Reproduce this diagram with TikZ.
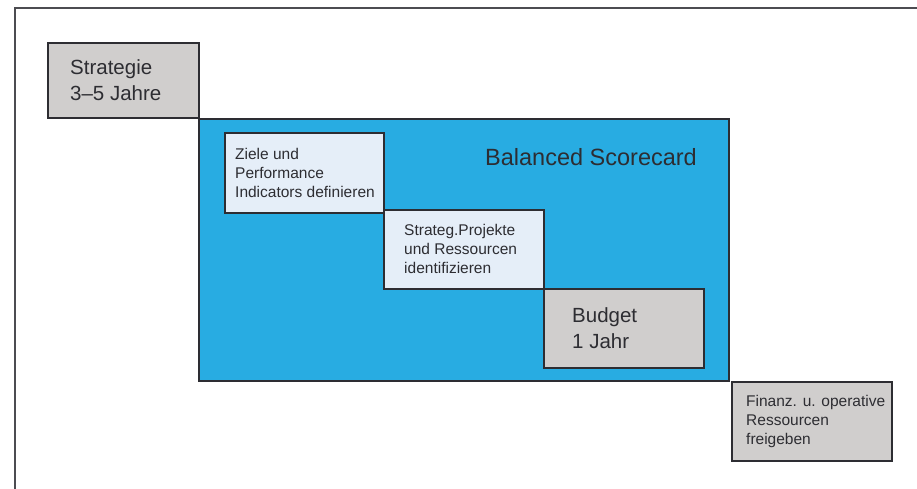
\documentclass[tikz,border=0pt]{standalone}
\usepackage{fontspec}
\setmainfont{Liberation Sans}
\usetikzlibrary{positioning}

\definecolor{bscblue}{RGB}{40,172,226}
\definecolor{boxgray}{RGB}{208,206,205}
\definecolor{boxlight}{RGB}{229,238,248}
\definecolor{edge}{RGB}{45,45,50}

\tikzset{
  box/.style={draw=edge, line width=1.6pt, anchor=north west, inner sep=0pt},
  bigtext/.style={font=\fontsize{20.5}{26}\selectfont, align=left, inner sep=0pt, text=edge},
  smalltext/.style={font=\fontsize{15.5}{19}\selectfont, align=left, inner sep=0pt, text=edge}
}

\begin{document}
\begin{tikzpicture}[x=1pt,y=-1pt]
  \useasboundingbox (0,0) rectangle (917,489);
  % open frame, top and left only
  \draw[edge!85, line width=1.2pt] (917,8) -- (15,8) -- (15,489);

  \node[box, fill=boxgray, minimum width=151pt, minimum height=75pt] (strat) at (47,42) {};
  \node[bigtext, right=23pt of strat.west] (strattext) {Strategie\\3--5 Jahre};

  % the scorecard block
  \node[box, fill=bscblue, minimum width=530pt, minimum height=262pt] (bsc) at (198,118) {};
  \node[font=\fontsize{23.5}{28}\selectfont, anchor=base west, inner sep=0pt, text=edge] (bsctitle) at (485,165) {Balanced Scorecard};

  \node[box, fill=boxlight, minimum width=159pt, minimum height=80pt] (ziele) at (224,132) {};
  \node[smalltext, right=11pt of ziele.west] (zieletext) {Ziele und\\Performance\\Indicators definieren};

  \node[box, fill=boxlight, minimum width=160pt, minimum height=79pt] (projekte) at (383,209) {};
  \node[smalltext, right=21pt of projekte.west] (projektetext) {Strateg.Projekte\\und Ressourcen\\identifizieren};

  \node[box, fill=boxgray, minimum width=160pt, minimum height=79pt] (budget) at (543,288) {};
  \node[bigtext, right=29pt of budget.west] (budgettext) {Budget\\1 Jahr};

  \node[box, fill=boxgray, minimum width=160pt, minimum height=79pt] (finanz) at (731,381) {};
  \node[smalltext, right=15pt of finanz.west] (finanztext) {Finanz. u. operative\\Ressourcen\\freigeben};
\end{tikzpicture}
\end{document}
